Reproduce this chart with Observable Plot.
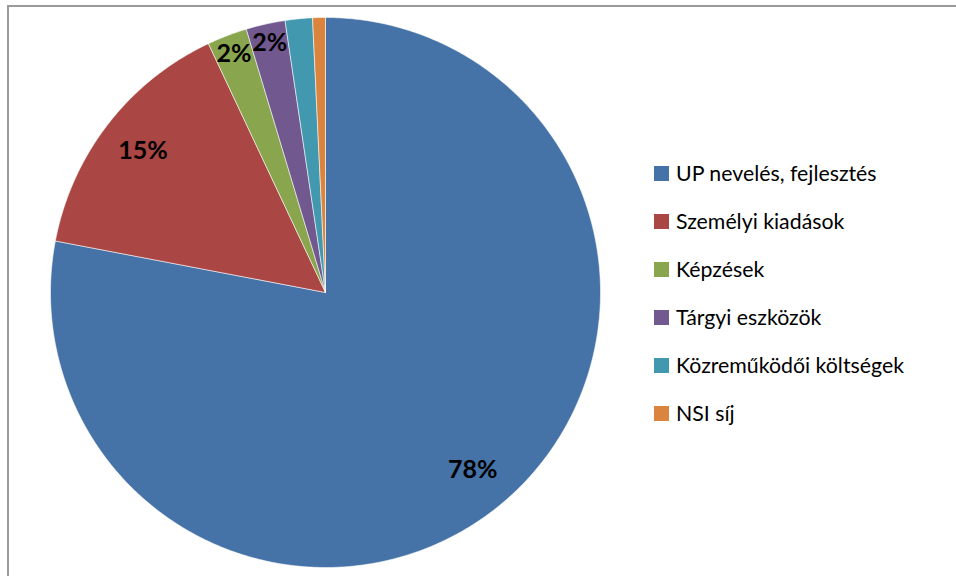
<!DOCTYPE html>
<html><head><meta charset="utf-8">
<script src="https://cdn.jsdelivr.net/npm/d3@7"></script>
<script src="https://cdn.jsdelivr.net/npm/@observablehq/plot@0.6"></script>
<style>
html,body{margin:0;padding:0;background:#fff;overflow:hidden;width:956px;height:576px;}
#frame{position:absolute;left:7px;top:5px;width:980px;height:620px;border:2px solid #9a9a9a;box-sizing:border-box;}
#chart{position:absolute;left:0;top:0;}
#legend{position:absolute;left:654px;top:160px;font-family:Lato,"Open Sans",sans-serif;font-size:21.3px;color:#000;}
.item{height:48px;display:flex;align-items:flex-start;}
.sw{width:15px;height:15px;margin-top:6px;margin-right:7px;flex:none;}
</style></head>
<body>
<div id="frame"></div>
<div id="chart"></div>
<div id="legend"></div>
<script>
const categories = ["UP nevelés, fejlesztés","Személyi kiadások","Képzések","Tárgyi eszközök","Közreműködői költségek","NSI síj"];
const values = [78.0, 15.0, 2.35, 2.3, 1.6, 0.75];
const labels = ["78%","15%","2%","2%","",""];
const colors = ["#4572a7","#aa4643","#89a54e","#71588f","#4198af","#db843d"];

const arcs = d3.pie().sort(null).value(d => d)(values);
const poly = [];
arcs.forEach((a, i) => {
  const n = Math.max(2, Math.ceil((a.endAngle - a.startAngle) / 0.01));
  poly.push({cat: categories[i], x: 0, y: 0});
  for (let k = 0; k <= n; k++) {
    const t = a.startAngle + (a.endAngle - a.startAngle) * k / n;
    poly.push({cat: categories[i], x: Math.sin(t), y: Math.cos(t)});
  }
  poly.push({cat: categories[i], x: 0, y: 0});
});
const labelData = arcs.map((a, i) => {
  const m = (a.startAngle + a.endAngle) / 2;
  const r = values[i] < 5 ? 0.93 : 0.84;
  return {label: labels[i], x: r * Math.sin(m), y: r * Math.cos(m)};
}).filter(d => d.label);

const plot = Plot.plot({
  width: 956, height: 576,
  marginLeft: 50, marginRight: 356, marginTop: 17, marginBottom: 9,
  x: {domain: [-1, 1], axis: null},
  y: {domain: [-1, 1], axis: null},
  color: {domain: categories, range: colors},
  style: {background: "transparent"},
  marks: [
    Plot.line(poly, {x: "x", y: "y", z: "cat", fill: "cat", stroke: "#ffffff", strokeWidth: 0.8, strokeOpacity: 0.7, curve: "linear"}),
    Plot.text(labelData, {x: "x", y: "y", text: "label", fontSize: 25, fontWeight: "bold", fontFamily: "Lato, 'Open Sans', sans-serif", fill: "#000"})
  ]
});
document.getElementById("chart").appendChild(plot);

const lg = document.getElementById("legend");
categories.forEach((c, i) => {
  const d = document.createElement("div"); d.className = "item";
  const s = document.createElement("div"); s.className = "sw"; s.style.background = colors[i];
  const t = document.createElement("span"); t.textContent = c;
  d.appendChild(s); d.appendChild(t); lg.appendChild(d);
});
</script>
</body></html>
